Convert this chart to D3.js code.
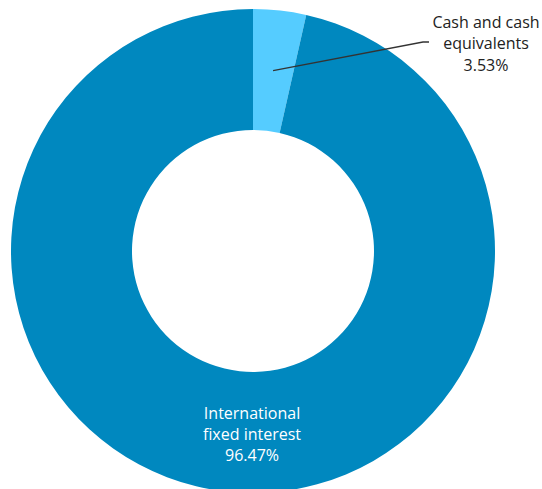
<!DOCTYPE html>
<html>
<head>
<meta charset="utf-8">
<script src="https://cdn.jsdelivr.net/npm/d3@7"></script>
<style>
  body { margin: 0; background: #fff; }
  text { font-family: "Open Sans", sans-serif; font-size: 16px; }
</style>
</head>
<body>
<div id="chart"></div>
<script>
var categories = ["Cash and cash equivalents", "International fixed interest"];
var values = [3.53, 96.47];
var colors = ["#55ccff", "#0088bf"];

var width = 542, height = 489;
var cx = 253, cy = 251;
var outerR = 242, innerR = 121;

var svg = d3.select('#chart').append("svg")
  .attr("width", width)
  .attr("height", height);

var g = svg.append("g")
  .attr("transform", "translate(" + cx + "," + cy + ")");

var pie = d3.pie().sort(null).value(function(d) { return d.value; });
var arc = d3.arc().innerRadius(innerR).outerRadius(outerR);

var data = categories.map(function(c, i) {
  return { name: c, value: values[i], color: colors[i] };
});
var arcs = pie(data);

g.selectAll("path.slice")
  .data(arcs)
  .enter().append("path")
  .attr("class", "slice")
  .attr("d", arc)
  .attr("fill", function(d) { return d.data.color; });

// small slice: leader line + label outside
var small = arcs[0];
var c = arc.centroid(small);
var labelX = 233, labelY = -223.5;
g.append("polyline")
  .attr("points", [c, [labelX - 63, -209], [labelX - 57, -209]].map(function(p) { return p.join(","); }).join(" "))
  .attr("fill", "none")
  .attr("stroke", "#333")
  .attr("stroke-width", 1.3);

var lbl1 = g.append("text")
  .attr("text-anchor", "middle")
  .attr("fill", "#222");
["Cash and cash", "equivalents", values[0].toFixed(2) + "%"].forEach(function(t, i) {
  lbl1.append("tspan").attr("x", labelX).attr("y", labelY + i * 21.5).text(t);
});

// big slice label inside, near the bottom
var r = (innerR + outerR) / 2 + 7;
var lbl2 = g.append("text")
  .attr("text-anchor", "middle")
  .attr("fill", "#fff");
["International", "fixed interest", values[1].toFixed(2) + "%"].forEach(function(t, i) {
  lbl2.append("tspan").attr("x", -1).attr("y", r - 20.5 + i * 21).text(t);
});
</script>
</body>
</html>
